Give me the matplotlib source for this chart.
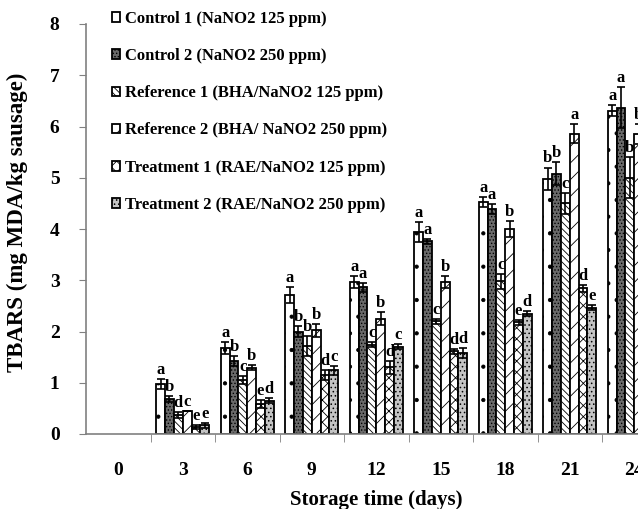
import numpy as np
import matplotlib
matplotlib.use('Agg')
import matplotlib.pyplot as plt

plt.rcParams['font.family'] = 'Liberation Serif'
plt.rcParams['font.weight'] = 'bold'
plt.rcParams['hatch.linewidth'] = 0.6

days = ['0', '3', '6', '9', '12', '15', '18', '21', '24']
names = ['Control 1 (NaNO2 125 ppm)', 'Control 2 (NaNO2 250 ppm)',
         'Reference 1 (BHA/NaNO2 125 ppm)', 'Reference 2 (BHA/ NaNO2 250 ppm)',
         'Treatment 1 (RAE/NaNO2 125 ppm)', 'Treatment 2 (RAE/NaNO2 250 ppm)']

# TBARS values (mg MDA/kg)
c1 = [0, 0.98, 1.68, 2.71, 2.97, 3.94, 4.53, 4.98, 6.31]
c2 = [0, 0.69, 1.43, 2.00, 2.86, 3.76, 4.39, 5.08, 6.37]
r1 = [0, 0.37, 1.06, 1.72, 1.74, 2.20, 2.98, 4.50, 5.00]
r2 = [0, 0.45, 1.29, 2.02, 2.25, 2.96, 4.00, 5.86, 5.85]
t1 = [0, 0.14, 0.58, 1.15, 1.30, 1.61, 2.18, 2.84, 3.00]
t2 = [0, 0.17, 0.65, 1.24, 1.70, 1.58, 2.35, 2.46, 2.90]

c1_err = [0, 0.10, 0.12, 0.15, 0.12, 0.20, 0.10, 0.22, 0.10]
c2_err = [0, 0.06, 0.10, 0.10, 0.08, 0.05, 0.10, 0.22, 0.40]
r1_err = [0, 0.05, 0.08, 0.20, 0.05, 0.05, 0.15, 0.20, 0.40]
r2_err = [0, 0.00, 0.05, 0.12, 0.13, 0.12, 0.15, 0.18, 0.20]
t1_err = [0, 0.04, 0.08, 0.10, 0.12, 0.04, 0.05, 0.07, 0.10]
t2_err = [0, 0.05, 0.05, 0.08, 0.05, 0.10, 0.05, 0.05, 0.10]

c1_let = ['', 'a', 'a', 'a', 'a', 'a', 'a', 'b', 'a']
c2_let = ['', 'b', 'b', 'b', 'a', 'a', 'a', 'b', 'a']
r1_let = ['', 'd', 'c', 'b', 'c', 'c', 'c', 'c', 'b']
r2_let = ['', 'c', 'b', 'b', 'b', 'b', 'b', 'a', 'b']
t1_let = ['', 'e', 'e', 'd', 'd', 'd', 'e', 'd', 'c']
t2_let = ['', 'e', 'd', 'c', 'c', 'd', 'd', 'e', 'd']

vals = [c1, c2, r1, r2, t1, t2]
errs = [c1_err, c2_err, r1_err, r2_err, t1_err, t2_err]
lets = [c1_let, c2_let, r1_let, r2_let, t1_let, t2_let]
faces = ['white', '#6a6a6a', 'white', 'white', 'white', '#c4c4c4']
hatches = ['.', '.....', '\\\\\\\\\\', '//', 'xxx', '....']

fig = plt.figure(figsize=(6.38, 5.09), dpi=100)
ax = fig.add_axes([86/638, 75/509, 580.5/638, 410/509])

x = np.arange(len(days))
w = 0.137
for i in range(6):
    xs = x + (i - 2.5) * w
    v = np.array(vals[i], dtype=float)
    e = np.array(errs[i], dtype=float)
    v[v == 0] = np.nan   # day 0: nothing drawn
    ax.bar(xs, v, w, color=faces[i], edgecolor='black', linewidth=1.3,
           hatch=hatches[i], label=names[i], zorder=2)
    ax.errorbar(xs, v, yerr=e, fmt='none', ecolor='black',
                elinewidth=1.2, capsize=3, capthick=1.2, zorder=3)
    for j in range(len(days)):
        if lets[i][j]:
            ax.text(xs[j], vals[i][j] + errs[i][j] + 0.02, lets[i][j],
                    ha='center', va='bottom', fontsize=12, fontweight='bold')

ax.set_xlim(-0.5, len(days) - 0.5)
ax.set_ylim(0, 8)
ax.set_xticks(x)
ax.set_xticklabels(days)
ax.set_xticks(x[:-1] + 0.5, minor=True)
ax.tick_params(axis='x', which='major', length=0, pad=20, labelsize=14)
ax.tick_params(axis='x', which='minor', length=6, direction='out', color='#808080')
ax.tick_params(axis='y', length=5, direction='out', color='#808080', labelsize=14, pad=14)
for sp in ['top', 'right']:
    ax.spines[sp].set_visible(False)
for sp in ['left', 'bottom']:
    ax.spines[sp].set_color('#808080')
    ax.spines[sp].set_linewidth(1.2)

ax.set_xlabel('Storage time (days)', fontsize=15, fontweight='bold', labelpad=8)
ax.set_ylabel('TBARS (mg MDA/kg sausage)', fontsize=16.5, fontweight='bold')
ax.yaxis.set_label_coords(-0.1, 0.517)

ax.legend(loc='upper left', bbox_to_anchor=(112/638, 1 - 11/509), bbox_transform=fig.transFigure,
          frameon=False, fontsize=12, handlelength=0.5, handleheight=0.5,
          handletextpad=0.3, labelspacing=1.27, borderpad=0, borderaxespad=0)

fig.savefig('out.png', dpi=100)
